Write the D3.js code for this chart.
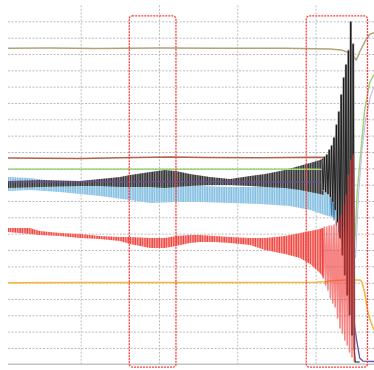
<!DOCTYPE html>
<html>
<head>
<meta charset="utf-8">
<script src="https://cdn.jsdelivr.net/npm/d3@7"></script>
<style>
  body { margin: 0; background: #fff; }
  svg { display: block; }
  .grid line { stroke: #bcbcbc; stroke-dasharray: 2,1.5; }
  .grid path { display: none; }
  .line { fill: none; stroke-linejoin: round; }
</style>
</head>
<body>
<div id="scope"></div>
<script>
// grid ticks: time (vertical lines) and divisions (horizontal lines)
var time_ticks = [100, 200, 300, 400];
var div_ticks = d3.range(1, 22);

// steady channels [t, value]
var tan_data = [[7.2, 19.35], [60, 19.37], [120, 19.34], [200, 19.36], [280, 19.35], [360, 19.35], [418, 19.3],
    [433, 19.25], [446, 19.0], [452, 18.63], [457, 19.2], [463, 19.76], [469, 20.2], [474.6, 20.3]];
var brown_data = [[7.2, 12.63], [50, 12.62], [100, 12.6], [150, 12.65], [215, 12.7], [260, 12.66], [330, 12.64],
    [400, 12.68], [420, 12.66], [425, 12.5], [429, 12.2], [435, 11.9], [440, 11.4]];
var green_data = [[7.2, 11.94], [200, 11.94], [400, 11.94], [416, 11.92], [422, 11.85], [428, 11.65], [434, 11.5],
    [442, 8], [447, 6], [451, 8.2], [453.3, 10.67], [456.7, 12.45], [462.7, 15.57], [469, 17.23], [474.6, 17.75]];
var lavender_data = [[451, 6.5], [455, 10.5], [459, 13.0], [464, 15.0], [470, 16.4], [474.6, 17.0]];
var purple_data = [[7.2, 11.16], [200, 11.18], [400, 11.16], [425, 11.16], [432, 11.0], [440, 7], [448, 3],
    [452, 1.61], [454.5, 0.9], [456.3, 0.39], [460.5, 0.2], [474.6, 0.17]];
var orange_data = [[7.2, 5.0], [100, 5.01], [250, 5.01], [400, 5.02], [413, 5.05], [420, 5.12], [440, 5.16],
    [457, 5.16], [459.5, 5.0], [462.7, 4.37], [466.9, 3.14], [471.1, 2.53], [474.6, 2.1]];

// oscillating channels, envelope [t, top, bottom]
var black_band = [[7.2, 11.22, 10.80], [48.0, 11.29, 10.86], [99.1, 11.22, 10.92], [124.6, 11.35, 10.92],
    [150.2, 11.47, 10.86], [163.0, 11.59, 10.86], [188.5, 11.78, 10.86], [207.6, 11.90, 10.80], [221.7, 11.84, 10.86],
    [239.6, 11.65, 10.92], [265.1, 11.47, 10.98], [290.7, 11.35, 10.98], [316.2, 11.53, 10.92], [335.4, 11.65, 10.86],
    [360.9, 11.90, 10.80], [380.1, 12.15, 10.67], [392.9, 12.33, 10.55], [405.6, 12.51, 10.43], [410.7, 12.64, 10.37]];
var blue_band = [[7.2, 11.47, 10.61], [35.2, 11.41, 10.67], [73.6, 11.16, 10.55], [124.6, 11.04, 10.31],
    [163.0, 10.98, 10.06], [188.5, 10.98, 9.88], [221.7, 10.98, 9.94], [252.4, 10.92, 9.94], [290.7, 10.86, 9.88],
    [329.0, 10.86, 9.82], [367.3, 10.92, 9.70], [392.9, 10.98, 9.45], [410.7, 11.10, 9.15], [424.8, 11.22, 8.96]];
var red_band = [[7.2, 8.35, 8.10], [35.2, 8.35, 7.98], [48.0, 8.16, 7.92], [73.6, 8.04, 7.86], [99.1, 7.98, 7.74],
    [124.6, 7.86, 7.67], [150.2, 7.80, 7.55], [163.0, 7.80, 7.37], [188.5, 7.74, 7.12], [207.6, 7.74, 7.12],
    [221.7, 7.86, 7.25], [239.6, 7.92, 7.43], [252.4, 7.92, 7.49], [271.5, 7.86, 7.49], [290.7, 7.80, 7.43],
    [316.2, 7.74, 7.31], [335.4, 7.74, 7.00], [360.9, 7.86, 6.76], [380.1, 8.04, 6.51], [392.9, 8.16, 6.14],
    [405.6, 8.29, 5.59], [410.7, 8.35, 5.29]];

// final collapse: peaks and troughs
var spike_t = [408.2, 409.7, 411.2, 412.8, 414.3, 415.8, 417.4, 418.9, 420.4, 422.0, 423.5, 425.0, 426.6, 428.1,
    429.6, 431.2, 432.7, 434.2, 435.8, 437.3, 438.8, 440.4, 441.9, 443.4, 444.9, 446.5, 448.0, 449.5];
var black_spikes = [12.51, 10.67, 12.69, 10.55, 12.82, 10.43, 13.12, 10.25, 13.37, 9.94, 13.86, 9.45, 14.65, 8.71,
    15.45, 7.74, 16.49, 6.69, 17.53, 5.47, 18.33, 4.24, 19.2, 3.02, 20.96, 1.79, 19.6, 0.88];
var black_tail = [[449.5, 0.88], [450.5, 0.14], [456.3, 0.14]];
var red_spikes = [8.35, 5.29, 8.41, 4.86, 8.41, 4.55, 8.47, 4.06, 8.47, 3.75, 8.53, 3.51, 8.72, 2.84, 8.84, 2.22,
    9.15, 1.92, 9.76, 1.49, 10.37, 1.18, 11.59, 0.75, 12.51, 0.45, 12.82, 0.14];
var blue_spikes = [10.98, 9.15, 11.16, 8.84, 11.41, 8.53, 11.78, 8.10, 12.21, 7.61, 12.64, 7.12, 13.43, 6.69,
    13.86, 6.27, 14.23, 5.78, 14.53, 5.16];

// highlighted windows [start t, end t]
var windows = [[162.1, 221.7], [388.1, 466.3]];

var width = 374, height = 370;

var x = d3.scaleLinear().domain([7.2, 474.6]).range([8, 374]);
var y = d3.scaleLinear().domain([0, 22]).range([364.3, 5]);

var svg = d3.select("#scope").append("svg")
    .attr("width", width)
    .attr("height", height);

svg.append("rect").attr("width", width).attr("height", height).attr("fill", "#fff");

// hatch patterns to mimic the dense oscillation
var defs = svg.append("defs");
function makeHatch(id, bg, fg, w) {
    var p = defs.append("pattern").attr("id", id)
        .attr("patternUnits", "userSpaceOnUse")
        .attr("width", 2.4).attr("height", 6);
    p.append("rect").attr("width", 2.4).attr("height", 6).attr("fill", bg);
    p.append("rect").attr("x", 0.4).attr("width", w).attr("height", 6).attr("fill", fg);
}
makeHatch("hatch-black", "#8c8c8c", "#1e1e1e", 1.1);
makeHatch("hatch-blue", "#bfdff0", "#72b3dc", 1.0);
makeHatch("hatch-red", "#f8b2aa", "#ee2b2b", 1.1);

// grid
svg.append("g").attr("class", "grid").attr("transform", "translate(8,0)")
    .call(d3.axisLeft(y).tickValues(div_ticks).tickSize(-366).tickFormat(''));
svg.append("g").attr("class", "grid").attr("transform", "translate(0," + y(0) + ")")
    .call(d3.axisBottom(x).tickValues(time_ticks).tickSize(-(y(0) - 5)).tickFormat(''));

svg.append("line")
    .attr("x1", 8).attr("x2", 374)
    .attr("y1", y(0)).attr("y2", y(0))
    .attr("stroke", "#c4c4c4").attr("stroke-width", 1.5);

var band = d3.area().x(d => x(d[0])).y0(d => y(d[2])).y1(d => y(d[1]));
var valueline = d3.line().x(d => x(d[0])).y(d => y(d[1]));

svg.append("path").attr("d", band(blue_band)).attr("fill", "url(#hatch-blue)");
svg.append("path").attr("d", band(black_band)).attr("fill", "url(#hatch-black)");
svg.append("path").attr("d", band(red_band)).attr("fill", "url(#hatch-red)");

function drawLine(data, color, w) {
    svg.append("path").attr("class", "line")
        .attr("d", valueline(data))
        .attr("stroke", color)
        .attr("stroke-width", w);
}
drawLine(tan_data, "#afa479", 1.5);
drawLine(brown_data, "#b1624b", 1.5);
drawLine(green_data, "#9fd57c", 1.5);
drawLine(lavender_data, "#c9b8e8", 1.1);
drawLine(purple_data, "#6a4fa3", 1.3);
drawLine(orange_data, "#f4b63a", 1.5);

var black_pts = spike_t.map((t, i) => [t, black_spikes[i]]);
var red_pts = spike_t.map((t, i) => [t, red_spikes[i]]);
var blue_pts = spike_t.slice(7).map((t, i) => [t, blue_spikes[i]]);

svg.append("path").attr("class", "line").attr("d", valueline(blue_pts))
    .attr("stroke", "#2f6fa8").attr("stroke-width", 1.2).attr("opacity", 0.9);
svg.append("path").attr("class", "line").attr("d", valueline(black_pts))
    .attr("stroke", "#9a9a9a").attr("stroke-width", 2.3);
svg.append("path").attr("class", "line").attr("d", valueline(black_pts))
    .attr("stroke", "#151515").attr("stroke-width", 0.9);
svg.append("path").attr("class", "line").attr("d", valueline(black_tail))
    .attr("stroke", "#151515").attr("stroke-width", 1.2);
svg.append("path").attr("class", "line").attr("d", valueline(red_pts))
    .attr("stroke", "#f03a3a").attr("stroke-width", 1.6).attr("opacity", 0.62);

// highlighted windows
svg.selectAll(".window")
    .data(windows)
    .enter()
    .append("rect")
        .attr("class", "window")
        .attr("x", d => x(d[0]))
        .attr("width", d => x(d[1]) - x(d[0]))
        .attr("y", y(21.33))
        .attr("height", y(-0.17) - y(21.33))
        .attr("rx", 3)
        .attr("fill", "none")
        .attr("stroke", "#ff3c3c")
        .attr("stroke-width", 1.3)
        .attr("stroke-dasharray", "2,1");
</script>
</body>
</html>
